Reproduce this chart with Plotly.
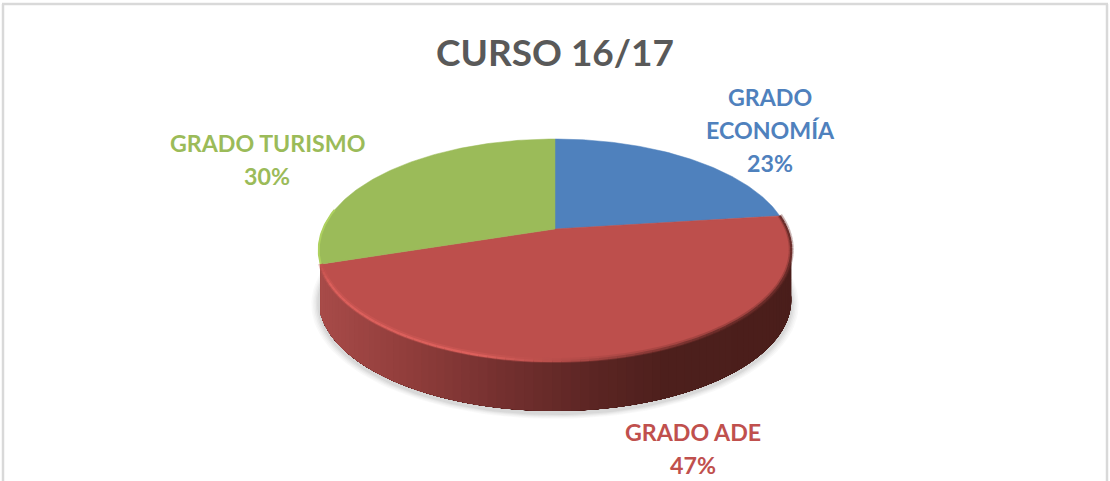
import math
import numpy as np
import plotly.graph_objects as go

categories = ["GRADO ECONOMÍA", "GRADO ADE", "GRADO TURISMO"]
values = [23, 47, 30]
slice_colors = ["#4f81bd", "#bd4f4c", "#9bbb59"]
label_lines = [["GRADO", "ECONOMÍA", "23%"], ["GRADO ADE", "47%"], ["GRADO TURISMO", "30%"]]
label_colors = ["#4f81bd", "#c0504d", "#9bbb59"]
title_text = "CURSO 16/17"

W, H = 1110, 481
CX, CY = 555.0, 250.0   # centre of the pie's outline
RX, RY = 232.0, 111.0   # radii
LIFT = 21.0             # how far the pie's apex sits above the outline centre
DEPTH = 50.0            # thickness of the pie
persp = (2 * LIFT) / (2 * RY)


def project(theta, dy=0.0, scale=1.0):
    """Perspective view of a point on the pie rim; theta clockwise from top."""
    u, v = np.sin(theta) * scale, np.cos(theta) * scale
    d = 1 + persp * v
    return CX + RX * u / d, CY - (RY * v + LIFT) / d + dy


def mix(c1, c2, t):
    a = [int(c1[i:i + 2], 16) for i in (1, 3, 5)]
    b = [int(c2[i:i + 2], 16) for i in (1, 3, 5)]
    return "rgb(%d,%d,%d)" % tuple(round(p + (q - p) * t) for p, q in zip(a, b))


def side_shade(x):
    stops = [(320, "#a84b49"), (400, "#943f3d"), (500, "#763130"), (600, "#5b2523"),
             (670, "#4d1f1c"), (800, "#4a1e1b")]
    for (x0, c0), (x1, c1) in zip(stops, stops[1:]):
        if x <= x1:
            return mix(c0, c1, max(0, (x - x0) / (x1 - x0)))
    return stops[-1][1]


fig = go.Figure()


def poly(x, y, color, line=0):
    fig.add_trace(go.Scatter(x=list(x), y=list(y), mode="lines", fill="toself", fillcolor=color,
                             line=dict(color=color, width=line), hoverinfo="skip", showlegend=False))


# soft shadow under the pie
tt = np.linspace(0, 2 * math.pi, 181)
for grow, alpha in [(1.030, .035), (1.024, .04), (1.018, .05), (1.012, .06), (1.006, .07)]:
    sx, sy = project(tt, dy=DEPTH + 3, scale=grow)
    poly(sx, sy, f"rgba(90,90,90,{alpha})")

total = sum(values)
edges = np.cumsum([0] + values) / total * 2 * math.pi

# wall of the red slice: each band is painted over the rest of the wall, so no seams show
start, end = edges[1], edges[2]
steps = np.linspace(start, end, 91)[:-1]
for a in steps:
    t = np.linspace(a, end, 90)
    x1, y1 = project(t)
    x2, y2 = project(t[::-1], dy=DEPTH)
    shade_x = project(np.array([a]))[0][0]
    poly(np.r_[x1, x2], np.r_[y1, y2], side_shade(shade_x))

# top faces
for i, color in enumerate(slice_colors):
    t = np.linspace(edges[i], edges[i + 1], 120)
    x, y = project(t)
    ax, ay = project(np.array([0.0]), scale=0.0)
    poly(np.r_[ax, x, ax], np.r_[ay, y, ay], color, line=0.5)


def rim_shade(xm):
    if xm < 330:
        return mix("#c0504d", "#dc605c", (xm - 320) / 10)
    if xm < 480:
        return "#dc605c"
    if xm < 600:
        return mix("#dc605c", "#a04340", (xm - 480) / 120)
    return mix("#a04340", "#6a2c29", min(1, (xm - 600) / 120))


# bevel on the front rim: a wide soft pass, then a narrow one
rim = np.linspace(edges[1], edges[2], 91)
for width, off, opacity in [(5, -0.5, 0.35), (2.2, 0.0, 1.0)]:
    for a, b in zip(rim[:-1], rim[1:]):
        x, y = project(np.array([a, b]), dy=off)
        fig.add_trace(go.Scatter(x=x, y=y, mode="lines", opacity=opacity,
                                 line=dict(color=rim_shade(x.mean()), width=width),
                                 hoverinfo="skip", showlegend=False))

# light edge of the green slice
t = np.linspace(edges[2], edges[2] + 0.5, 40)
x, y = project(t)
fig.add_trace(go.Scatter(x=x, y=y, mode="lines", line=dict(color="#aed15f", width=2),
                         hoverinfo="skip", showlegend=False))

# chart frame
frame = dict(color="#d9d9d9", width=2.5)
fig.add_shape(type="line", x0=3, x1=3, y0=4, y1=H, line=frame)
fig.add_shape(type="line", x0=2, x1=1108, y0=4, y1=4, line=frame)
fig.add_shape(type="line", x0=1107, x1=1107, y0=4, y1=H, line=frame)

label_anchor = [(770, 97), (693, 432), (267, 143)]
LINE_GAP = 33
for lines, color, (lx, ly) in zip(label_lines, label_colors, label_anchor):
    for k, text in enumerate(lines):
        fig.add_annotation(x=lx, y=ly + k * LINE_GAP, text=text, showarrow=False,
                           xanchor="center", yanchor="middle",
                           font=dict(family="Lato", size=23.2, color=color, weight="bold"))

fig.update_layout(
    width=W, height=H, autosize=False, margin=dict(l=0, r=0, t=0, b=0),
    paper_bgcolor="white", plot_bgcolor="white", showlegend=False,
    title=dict(text=title_text, x=555 / W, y=1 - 53 / H, xanchor="center", yanchor="middle",
               font=dict(family="Lato", size=37, color="#595959", weight="bold")),
    xaxis=dict(range=[0, W], visible=False, fixedrange=True),
    yaxis=dict(range=[H, 0], visible=False, fixedrange=True),
)
fig.write_html("out.html", post_script="document.body.style.margin='0';", config={"displayModeBar": False})
